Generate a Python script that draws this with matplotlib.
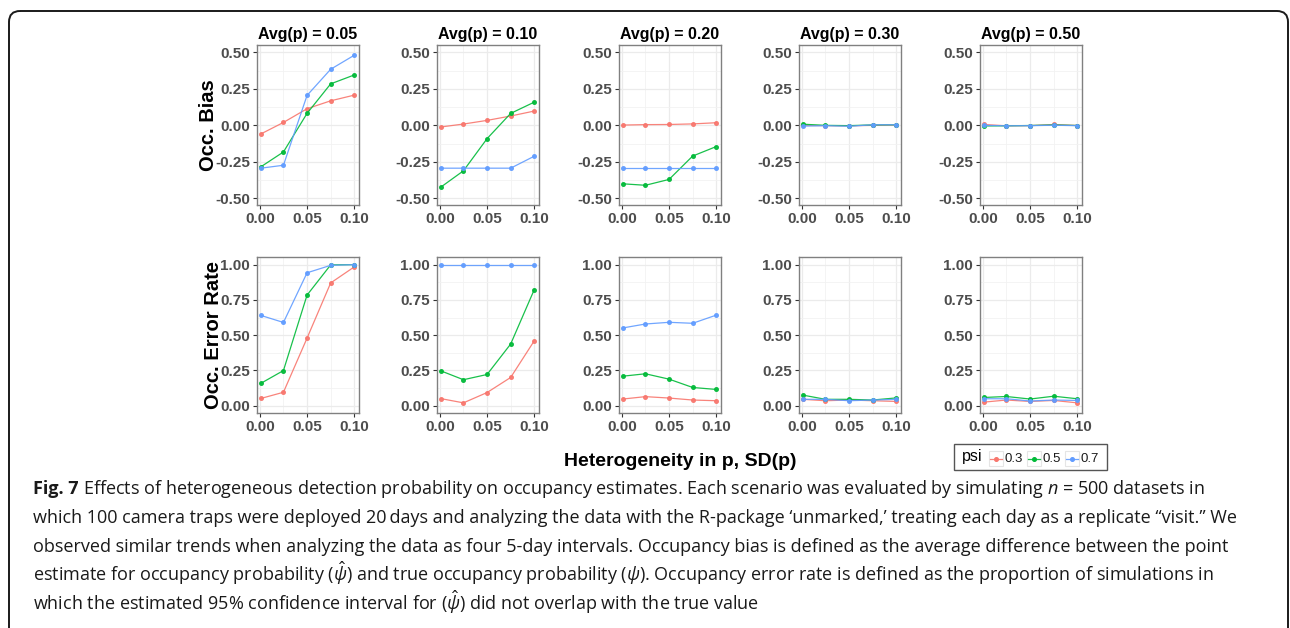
import matplotlib
matplotlib.use("Agg")
import matplotlib.pyplot as plt
from matplotlib.patches import FancyBboxPatch, Rectangle
from matplotlib.lines import Line2D
from matplotlib.ticker import FixedLocator, FormatStrFormatter

plt.rcParams["font.family"] = ["Liberation Sans", "DejaVu Sans"]
plt.rcParams["axes.unicode_minus"] = False
plt.rcParams["mathtext.fontset"] = "custom"
plt.rcParams["mathtext.rm"] = "Open Sans"
plt.rcParams["mathtext.it"] = "Open Sans:italic"
plt.rcParams["mathtext.bf"] = "Open Sans:bold"

# data
avg_p = ["0.05", "0.10", "0.20", "0.30", "0.50"]
psi_levels = ["0.3", "0.5", "0.7"]
sd_p = [0.001, 0.025, 0.05, 0.075, 0.1]

# occupancy bias, one row per Avg(p)
bias_psi03 = [
    [-0.059, 0.020, 0.114, 0.168, 0.207],
    [-0.011, 0.009, 0.034, 0.064, 0.098],
    [0.002, 0.005, 0.006, 0.010, 0.018],
    [0.000, -0.002, -0.003, 0.000, 0.002],
    [0.006, -0.003, -0.002, 0.006, -0.001],
]
bias_psi05 = [
    [-0.284, -0.182, 0.082, 0.284, 0.345],
    [-0.423, -0.311, -0.091, 0.082, 0.159],
    [-0.400, -0.410, -0.370, -0.210, -0.145],
    [0.008, 0.000, -0.002, 0.003, 0.004],
    [-0.004, -0.003, -0.001, 0.003, -0.001],
]
bias_psi07 = [
    [-0.293, -0.273, 0.205, 0.384, 0.480],
    [-0.293, -0.293, -0.293, -0.293, -0.211],
    [-0.293, -0.293, -0.293, -0.293, -0.293],
    [-0.005, -0.002, -0.006, 0.004, 0.004],
    [0.000, -0.003, -0.002, 0.001, -0.002],
]

# occupancy error rate, one row per Avg(p)
err_psi03 = [
    [0.051, 0.095, 0.479, 0.870, 0.984],
    [0.050, 0.020, 0.093, 0.200, 0.460],
    [0.047, 0.064, 0.054, 0.040, 0.035],
    [0.045, 0.035, 0.040, 0.035, 0.030],
    [0.025, 0.040, 0.030, 0.037, 0.020],
]
err_psi05 = [
    [0.158, 0.249, 0.784, 0.998, 1.000],
    [0.247, 0.184, 0.221, 0.437, 0.823],
    [0.209, 0.226, 0.188, 0.129, 0.115],
    [0.075, 0.045, 0.045, 0.040, 0.055],
    [0.058, 0.065, 0.047, 0.067, 0.049],
]
err_psi07 = [
    [0.640, 0.590, 0.942, 0.995, 1.000],
    [1.000, 1.000, 1.000, 1.000, 1.000],
    [0.551, 0.579, 0.591, 0.584, 0.642],
    [0.045, 0.045, 0.035, 0.040, 0.045],
    [0.049, 0.049, 0.033, 0.040, 0.037],
]

colors = ["#F8766D", "#00BA38", "#619CFF"]
tick_grey = "#4d4d4d"

W, H = 1290, 628
fig = plt.figure(figsize=(W / 100, H / 100), dpi=100)

# overlay in pixel units for the frame, caption and legend
over = fig.add_axes([0, 0, 1, 1])
over.set_xlim(0, W)
over.set_ylim(H, 0)
over.axis("off")
over.add_patch(FancyBboxPatch((9, 11), 1279, 660, boxstyle="round,pad=0,rounding_size=11",
                              fill=False, ec="#1a1a1a", lw=1.4))


def px_axes(left, top, width, height):
    return fig.add_axes([left / W, (H - top - height) / H, width / W, height / H])


def style_panel(ax, yticks, yminor, ylim):
    ax.set_xlim(-0.003, 0.105)
    ax.set_ylim(*ylim)
    ax.xaxis.set_major_locator(FixedLocator([0.0, 0.05, 0.1]))
    ax.xaxis.set_minor_locator(FixedLocator([0.025, 0.075]))
    ax.yaxis.set_major_locator(FixedLocator(yticks))
    ax.yaxis.set_minor_locator(FixedLocator(yminor))
    ax.xaxis.set_major_formatter(FormatStrFormatter("%.2f"))
    ax.yaxis.set_major_formatter(FormatStrFormatter("%.2f"))
    ax.grid(which="major", color="#ebebeb", lw=0.9)
    ax.grid(which="minor", color="#f2f2f2", lw=0.6)
    ax.set_axisbelow(True)
    ax.tick_params(which="major", length=3, width=0.8, color="#333333", pad=2,
                   labelsize=11, labelcolor=tick_grey)
    ax.tick_params(which="minor", length=0)
    for lab in ax.get_xticklabels() + ax.get_yticklabels():
        lab.set_fontweight("bold")
    for sp in ax.spines.values():
        sp.set_color("#808080")
        sp.set_linewidth(1.0)


lefts = [257, 437, 619, 799, 980]
bias_series = [bias_psi03, bias_psi05, bias_psi07]
err_series = [err_psi03, err_psi05, err_psi07]

for i, lft in enumerate(lefts):
    ax1 = px_axes(lft, 45, 102, 160)
    for c, series in zip(colors, bias_series):
        ax1.plot(sd_p, series[i], color=c, lw=0.9, marker="o", ms=2.6, alpha=0.9)
    style_panel(ax1, [-0.5, -0.25, 0, 0.25, 0.5], [-0.375, -0.125, 0.125, 0.375], (-0.545, 0.55))
    ax1.set_title("Avg(p) = " + avg_p[i], fontsize=11.5, fontweight="bold", pad=4)

    ax2 = px_axes(lft, 257, 102, 156)
    for c, series in zip(colors, err_series):
        ax2.plot(sd_p, series[i], color=c, lw=0.9, marker="o", ms=2.6, alpha=0.9)
    style_panel(ax2, [0, 0.25, 0.5, 0.75, 1.0], [0.125, 0.375, 0.625, 0.875], (-0.052, 1.054))

    if i == 0:
        ax1.set_ylabel("Occ. Bias", fontsize=14.5, fontweight="bold")
        ax2.set_ylabel("Occ. Error Rate", fontsize=14.5, fontweight="bold")
        ax1.yaxis.set_label_coords(-0.385, 0.5)
        ax2.yaxis.set_label_coords(-0.335, 0.5)

over.text(680, 462, "Heterogeneity in p, SD(p)", fontsize=14, fontweight="bold",
          ha="center", va="center")

# legend
over.add_patch(Rectangle((954, 444), 153, 26, fill=False, ec="#555555", lw=1.0))
over.text(962, 457, "psi", fontsize=11.5, va="center", ha="left")
key_x = [989, 1027, 1065]
for kx, c, lab in zip(key_x, colors, psi_levels):
    over.add_patch(Rectangle((kx, 451), 14, 15, fill=False, ec="#e5e5e5", lw=0.8))
    over.add_line(Line2D([kx + 1, kx + 13], [458.5, 458.5], color=c, lw=0.9, alpha=0.9))
    over.plot([kx + 7], [458.5], marker="o", ms=2.6, color=c)
    over.text(kx + 15.5, 458.5, lab, fontsize=9.5, va="center", ha="left", color="#1a1a1a")

# caption
cap_kw = dict(fontsize=13, family="Open Sans", color="#1a1a1a", va="baseline", ha="left")
fig_lab = over.text(33, 494, "Fig. 7", fontweight="bold", **cap_kw)
renderer = fig.canvas.get_renderer()
bb = fig_lab.get_window_extent(renderer)
over.text(bb.x1 + 4.5, 494,
          "Effects of heterogeneous detection probability on occupancy estimates. "
          "Each scenario was evaluated by simulating $n$ = 500 datasets in", **cap_kw)
caption_lines = [
    "which 100 camera traps were deployed 20\u2009days and analyzing the data with the R-package "
    "\u2018unmarked,\u2019 treating each day as a replicate \u201cvisit.\u201d We",
    "observed similar trends when analyzing the data as four 5-day intervals. Occupancy bias is "
    "defined as the average difference between the point",
    "estimate for occupancy probability ($\\hat{\\psi}$) and true occupancy probability ($\\psi$). "
    "Occupancy error rate is defined as the proportion of simulations in",
    "which the estimated 95% confidence interval for ($\\hat{\\psi}$) did not overlap with the true value",
]
for k, line in enumerate(caption_lines):
    over.text(33, 523 + 29 * k, line, **cap_kw)

fig.savefig("out.png", dpi=100)
